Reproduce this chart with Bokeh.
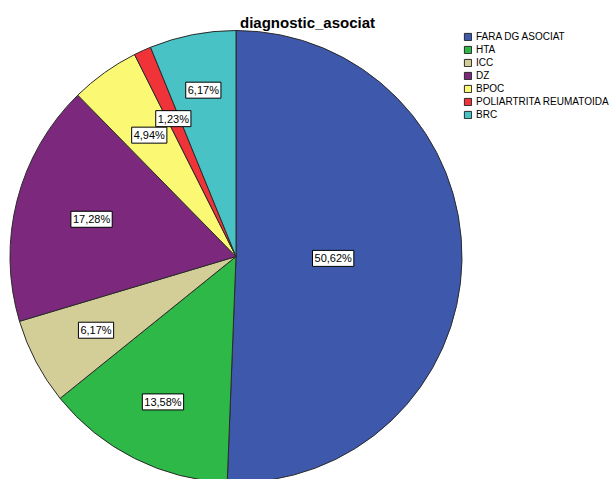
import math
from bokeh.plotting import figure
from bokeh.models import ColumnDataSource, Legend, LegendItem
from bokeh.core.properties import value
from bokeh.embed import file_html
from bokeh.resources import INLINE

# Associated diagnoses (counts out of 81 patients)
categories = ["FARA DG ASOCIAT", "HTA", "ICC", "DZ", "BPOC", "POLIARTRITA REUMATOIDA", "BRC"]
counts = [41, 11, 5, 14, 4, 1, 5]
percent_labels = ["50,62%", "13,58%", "6,17%", "17,28%", "4,94%", "1,23%", "6,17%"]
colors = ["#3E58AC", "#2EB848", "#D3CE97", "#7C287D", "#FBF873", "#EF3338", "#48C2C5"]

# Layout (pixel-like data units, y measured upward)
W, H = 609, 479
cx, cy, R = 235.5, H - 256.0, 226.0
label_radius = [0.43, 0.72, 0.70, 0.66, 0.66, 0.67, 0.75]

total = sum(counts)
starts, ends, lx, ly = [], [], [], []
cum = 0.0
for c, rf in zip(counts, label_radius):
    a0 = math.pi / 2 - 2 * math.pi * cum / total
    a1 = math.pi / 2 - 2 * math.pi * (cum + c) / total
    mid = (a0 + a1) / 2
    starts.append(a0)
    ends.append(a1)
    lx.append(cx + rf * R * math.cos(mid))
    ly.append(cy + rf * R * math.sin(mid))
    cum += c

src = ColumnDataSource(dict(cat=categories, start=starts, end=ends, color=colors,
                            lx=lx, ly=ly, lab=percent_labels))

p = figure(width=W, height=H, x_range=(0, W), y_range=(0, H),
           output_backend="svg", toolbar_location=None, min_border=0,
           outline_line_color=None)
p.axis.visible = False
p.grid.visible = False
p.background_fill_color = "white"

wedges = p.wedge(x=cx, y=cy, radius=R, start_angle="start", end_angle="end",
                 direction="clock", fill_color="color", line_color="#2b2b2b",
                 line_width=1, source=src)

p.text(x="lx", y="ly", text="lab", source=src, text_align="center",
       text_baseline="middle", text_font=value("Liberation Sans"),
       text_font_size="11px", text_color="black",
       background_fill_color="white", border_line_color="black",
       border_line_width=1, padding=2)

p.text(x=[307], y=[H - 22], text=["diagnostic_asociat"], text_align="center",
       text_baseline="alphabetic", text_font=value("Liberation Sans"),
       text_font_style="bold", text_font_size="15px", text_color="black")

items = [LegendItem(label=c, renderers=[wedges], index=i) for i, c in enumerate(categories)]
legend = Legend(items=items, location=(463, H - 121), orientation="vertical",
                border_line_color=None, background_fill_alpha=0, padding=0, margin=0,
                spacing=0, glyph_width=9, glyph_height=9, label_height=13,
                label_standoff=4, label_text_font="Liberation Sans",
                label_text_font_size="10px", label_text_color="black")
p.add_layout(legend, "center")

open("out.html", "w").write(file_html(p, INLINE))
